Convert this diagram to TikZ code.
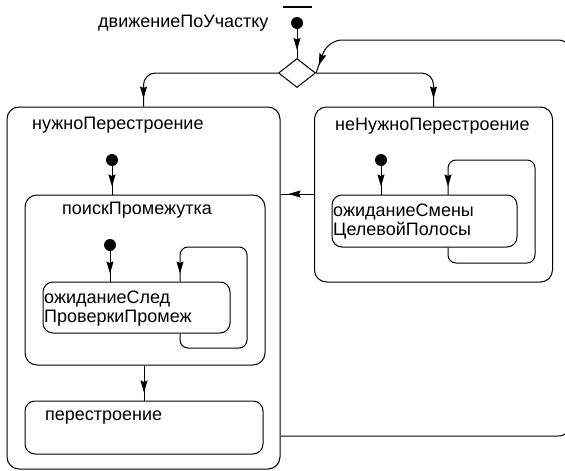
\documentclass[tikz,border=0pt]{standalone}
\usepackage{fontspec}
\setmainfont{Liberation Sans}
\usetikzlibrary{arrows.meta,decorations.markings,shapes.geometric}
\begin{document}
\begin{tikzpicture}[x=1pt,y=-1pt,
  box/.style={draw, rounded corners=12pt, inner sep=0pt, line width=1pt},
  sbox/.style={draw, rounded corners=10pt, inner sep=0pt, line width=1pt},
  lbl/.style={anchor=west, inner sep=0pt, align=left, font=\fontsize{18}{19}\selectfont},
  ini/.style={circle, fill=black, minimum size=12pt, inner sep=0pt},
  choice/.style={diamond, draw, line width=1pt, minimum width=37pt, minimum height=29pt, inner sep=0pt},
  arr/.style={line width=1pt, postaction={decorate},
    decoration={markings, mark=at position -8pt with {\arrow{Stealth[length=12pt,width=7pt,inset=1.5pt]}}}},
  loop/.style={arr, rounded corners=8pt}]
\useasboundingbox (0,0) rectangle (565,471);
\fill[white] (0,0) rectangle (565,471);

% boxes
\node[box, minimum width=273pt, minimum height=362pt] (nuzhno) at (143.5,288) {};
\node[box, minimum width=240pt, minimum height=170pt] (poisk) at (145,280) {};
\node[sbox, minimum width=187pt, minimum height=51pt] (sled) at (136.5,307.5) {};
\node[sbox, minimum width=238pt, minimum height=53pt] (perestr) at (144,427.5) {};
\node[box, minimum width=238pt, minimum height=175pt] (nenuzhno) at (433.5,194.5) {};
\node[sbox, minimum width=185pt, minimum height=52pt] (smeny) at (424.5,221) {};
\node[choice] (dia) at (297,73) {};

% initial states
\node[ini] (i0) at (297,23) {};
\node[ini] (i1) at (112,160) {};
\node[ini] (i2) at (110,245) {};
\node[ini] (i3) at (381,160) {};
\draw[line width=2pt] (283,7) -- (312,7);

% labels
\node[lbl] (t0) at (98,23) {движениеПоУчастку};
\node[lbl] (t1) at (32,125) {нужноПерестроение};
\node[lbl] (t2) at (62,210) {поискПромежутка};
\node[lbl] (t3) at (44,308.5) {ожиданиеСлед\\ПроверкиПромеж};
\node[lbl] (t4) at (45,418) {перестроение};
\node[lbl] (t5) at (335,126) {неНужноПерестроение};
\node[lbl] (t6) at (333,221.5) {ожиданиеСмены\\ЦелевойПолосы};

% connectors
\draw[arr] (i0) -- (dia.north);
\draw[arr, rounded corners=12pt] (dia.west) -| (nuzhno.north);
\draw[arr, rounded corners=12pt] (dia.east) -| (nenuzhno.north);
\draw[arr] (i1) -- (i1 |- poisk.north);
\draw[arr] (i2) -- (i2 |- sled.north);
\draw[arr] (i3) -- (i3 |- smeny.north);
\draw[loop] (sled.south -| 180,0) -- (180,348) -- (247,348) -- (247,247) -- (180,247) -- (sled.north -| 180,0);
\draw[loop] (smeny.south -| 448,0) -- (448,263) -- (535,263) -- (535,160) -- (448,160) -- (smeny.north -| 448,0);
\draw[arr] (nenuzhno.west |- 0,194) -- (nuzhno.east |- 0,194);
\draw[arr] (poisk.south -| perestr.north) -- (perestr.north);
\draw[arr, rounded corners=14pt] (nuzhno.east |- 0,436) -- (572,436) -- (572,40) -- (328,40) -- (dia.east);
\end{tikzpicture}
\end{document}
